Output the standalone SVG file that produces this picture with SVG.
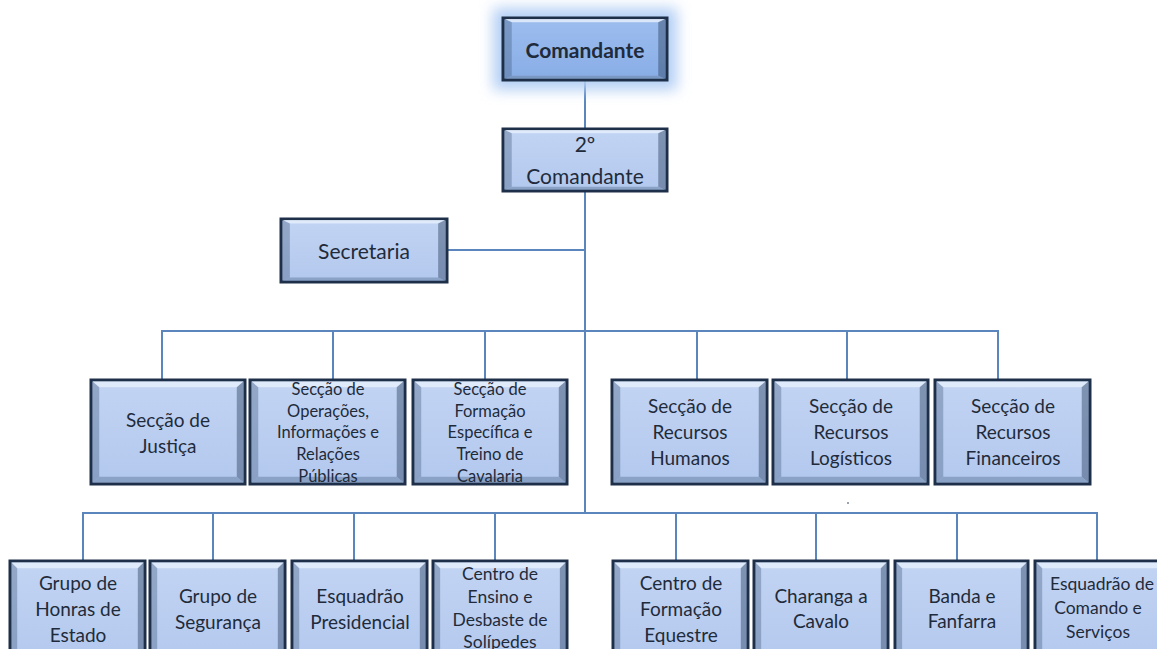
<svg xmlns="http://www.w3.org/2000/svg" xmlns:xlink="http://www.w3.org/1999/xlink" width="1157" height="649" viewBox="0 0 1157 649">
<style>
.box{fill:url(#fillG);stroke:#1e3049;stroke-width:3}
.top{fill:url(#fillTop);stroke:#1e3049;stroke-width:3}
.t{font-family:Lato,"Open Sans",sans-serif;fill:#1f2b3a;text-anchor:middle}
.f18{font-size:19px}
.f15{font-size:16.5px}
.f16{font-size:17.5px}
.f20{font-size:21px}
.c{fill:none;stroke:#5b86bd;stroke-width:2}
</style>
<defs>
<linearGradient id="fillG" x1="0" y1="0" x2="0" y2="1">
<stop offset="0" stop-color="#c2d4f3"/>
<stop offset="1" stop-color="#b3c8ee"/>
</linearGradient>
<linearGradient id="fillTop" x1="0" y1="0" x2="0" y2="1">
<stop offset="0" stop-color="#9cbdee"/>
<stop offset="1" stop-color="#88ade6"/>
</linearGradient>
<filter id="glow" x="-30%" y="-60%" width="160%" height="220%">
<feGaussianBlur stdDeviation="7"/>
</filter>
<symbol id="bev" viewBox="0 0 150 100" preserveAspectRatio="none">
<polygon points="1.5,1.5 148.5,1.5 142,7 8,7" fill="#e4edfb" opacity="0.85"/>
<polygon points="1.5,1.5 8,7 8,93 1.5,98.5" fill="#3d5678" opacity="0.35"/>
<polygon points="148.5,1.5 148.5,98.5 142,93 142,7" fill="#2c4362" opacity="0.45"/>
<polygon points="1.5,98.5 148.5,98.5 142,93 8,93" fill="#6f88ad" opacity="0.6"/>
</symbol>
</defs>
<rect width="1157" height="649" fill="#ffffff"/>

<g id="connectors">
<line class="c" x1="585" y1="80" x2="585" y2="128"/>
<line class="c" x1="585" y1="191" x2="585" y2="513"/>
<line class="c" x1="447" y1="250" x2="585" y2="250"/>
<polyline class="c" points="162,380 162,331 998,331 998,380"/>
<line class="c" x1="333" y1="331" x2="333" y2="380"/>
<line class="c" x1="485" y1="331" x2="485" y2="380"/>
<line class="c" x1="697" y1="331" x2="697" y2="380"/>
<line class="c" x1="847" y1="331" x2="847" y2="380"/>
<polyline class="c" points="83,561 83,513 1097,513 1097,561"/>
<line class="c" x1="213" y1="513" x2="213" y2="561"/>
<line class="c" x1="354" y1="513" x2="354" y2="561"/>
<line class="c" x1="495" y1="513" x2="495" y2="561"/>
<line class="c" x1="676" y1="513" x2="676" y2="561"/>
<line class="c" x1="816" y1="513" x2="816" y2="561"/>
<line class="c" x1="957" y1="513" x2="957" y2="561"/>
</g>
<rect x="847" y="502" width="2" height="2" fill="#9aa4b0"/>

<g id="comandante">
<rect x="493" y="8" width="184" height="82" fill="#b3cff5" filter="url(#glow)"/>
<rect class="top" x="503" y="18" width="164" height="62"/>
<use href="#bev" x="503" y="18" width="164" height="62"/>
<text class="t" x="585" y="58" font-size="21" font-weight="bold">Comandante</text>
</g>

<g id="segundo-comandante">
<rect class="box" x="503" y="129" width="164" height="62"/>
<use href="#bev" x="503" y="129" width="164" height="62"/>
<text class="t f20" x="585" y="152">2º</text>
<text class="t f20" x="585" y="184">Comandante</text>
</g>

<g id="secretaria">
<rect class="box" x="281" y="219" width="166" height="63"/>
<use href="#bev" x="281" y="219" width="166" height="63"/>
<text class="t f20" x="364" y="259">Secretaria</text>
</g>

<g id="justica">
<rect class="box" x="91" y="380" width="154" height="104"/>
<use href="#bev" x="91" y="380" width="154" height="104"/>
<text class="t f18" x="168" y="427">Secção de</text>
<text class="t f18" x="168" y="453">Justiça</text>
</g>

<g id="operacoes">
<rect class="box" x="250" y="380" width="155" height="104"/>
<use href="#bev" x="250" y="380" width="155" height="104"/>
<text class="t f15" x="328" y="395">Secção de</text>
<text class="t f15" x="328" y="417">Operações,</text>
<text class="t f15" x="328" y="438">Informações e</text>
<text class="t f15" x="328" y="460">Relações</text>
<text class="t f15" x="328" y="482">Públicas</text>
</g>

<g id="formacao">
<rect class="box" x="413" y="380" width="154" height="104"/>
<use href="#bev" x="413" y="380" width="154" height="104"/>
<text class="t f15" x="490" y="395">Secção de</text>
<text class="t f15" x="490" y="417">Formação</text>
<text class="t f15" x="490" y="438">Específica e</text>
<text class="t f15" x="490" y="460">Treino de</text>
<text class="t f15" x="490" y="482">Cavalaria</text>
</g>

<g id="rh">
<rect class="box" x="612" y="380" width="155" height="104"/>
<use href="#bev" x="612" y="380" width="155" height="104"/>
<text class="t f18" x="690" y="413">Secção de</text>
<text class="t f18" x="690" y="439">Recursos</text>
<text class="t f18" x="690" y="465">Humanos</text>
</g>

<g id="logisticos">
<rect class="box" x="773" y="380" width="155" height="104"/>
<use href="#bev" x="773" y="380" width="155" height="104"/>
<text class="t f18" x="851" y="413">Secção de</text>
<text class="t f18" x="851" y="439">Recursos</text>
<text class="t f18" x="851" y="465">Logísticos</text>
</g>

<g id="financeiros">
<rect class="box" x="935" y="380" width="155" height="104"/>
<use href="#bev" x="935" y="380" width="155" height="104"/>
<text class="t f18" x="1013" y="413">Secção de</text>
<text class="t f18" x="1013" y="439">Recursos</text>
<text class="t f18" x="1013" y="465">Financeiros</text>
</g>

<g id="honras">
<rect class="box" x="10" y="561" width="135" height="104"/>
<use href="#bev" x="10" y="561" width="135" height="104"/>
<text class="t f18" x="78" y="590">Grupo de</text>
<text class="t f18" x="78" y="616">Honras de</text>
<text class="t f18" x="78" y="642">Estado</text>
</g>

<g id="seguranca">
<rect class="box" x="150" y="561" width="135" height="104"/>
<use href="#bev" x="150" y="561" width="135" height="104"/>
<text class="t f18" x="218" y="603">Grupo de</text>
<text class="t f18" x="218" y="629">Segurança</text>
</g>

<g id="presidencial">
<rect class="box" x="292" y="561" width="135" height="104"/>
<use href="#bev" x="292" y="561" width="135" height="104"/>
<text class="t f18" x="360" y="603">Esquadrão</text>
<text class="t f18" x="360" y="629">Presidencial</text>
</g>

<g id="ensino">
<rect class="box" x="433" y="561" width="134" height="104"/>
<use href="#bev" x="433" y="561" width="134" height="104"/>
<text class="t f16" x="500" y="580">Centro de</text>
<text class="t f16" x="500" y="603">Ensino e</text>
<text class="t f16" x="500" y="626">Desbaste de</text>
<text class="t f16" x="500" y="648">Solípedes</text>
</g>

<g id="equestre">
<rect class="box" x="613" y="561" width="135" height="104"/>
<use href="#bev" x="613" y="561" width="135" height="104"/>
<text class="t f18" x="681" y="590">Centro de</text>
<text class="t f18" x="681" y="616">Formação</text>
<text class="t f18" x="681" y="642">Equestre</text>
</g>

<g id="charanga">
<rect class="box" x="754" y="561" width="134" height="104"/>
<use href="#bev" x="754" y="561" width="134" height="104"/>
<text class="t f18" x="821" y="603">Charanga a</text>
<text class="t f18" x="821" y="628">Cavalo</text>
</g>

<g id="banda">
<rect class="box" x="895" y="561" width="133" height="104"/>
<use href="#bev" x="895" y="561" width="133" height="104"/>
<text class="t f18" x="962" y="603">Banda e</text>
<text class="t f18" x="962" y="628">Fanfarra</text>
</g>

<g id="comando-servicos">
<rect class="box" x="1035" y="561" width="135" height="104"/>
<use href="#bev" x="1035" y="561" width="135" height="104"/>
<text class="t f16" x="1102" y="590">Esquadrão de</text>
<text class="t f16" x="1098" y="614">Comando e</text>
<text class="t f16" x="1098" y="638">Serviços</text>
</g>
</svg>
